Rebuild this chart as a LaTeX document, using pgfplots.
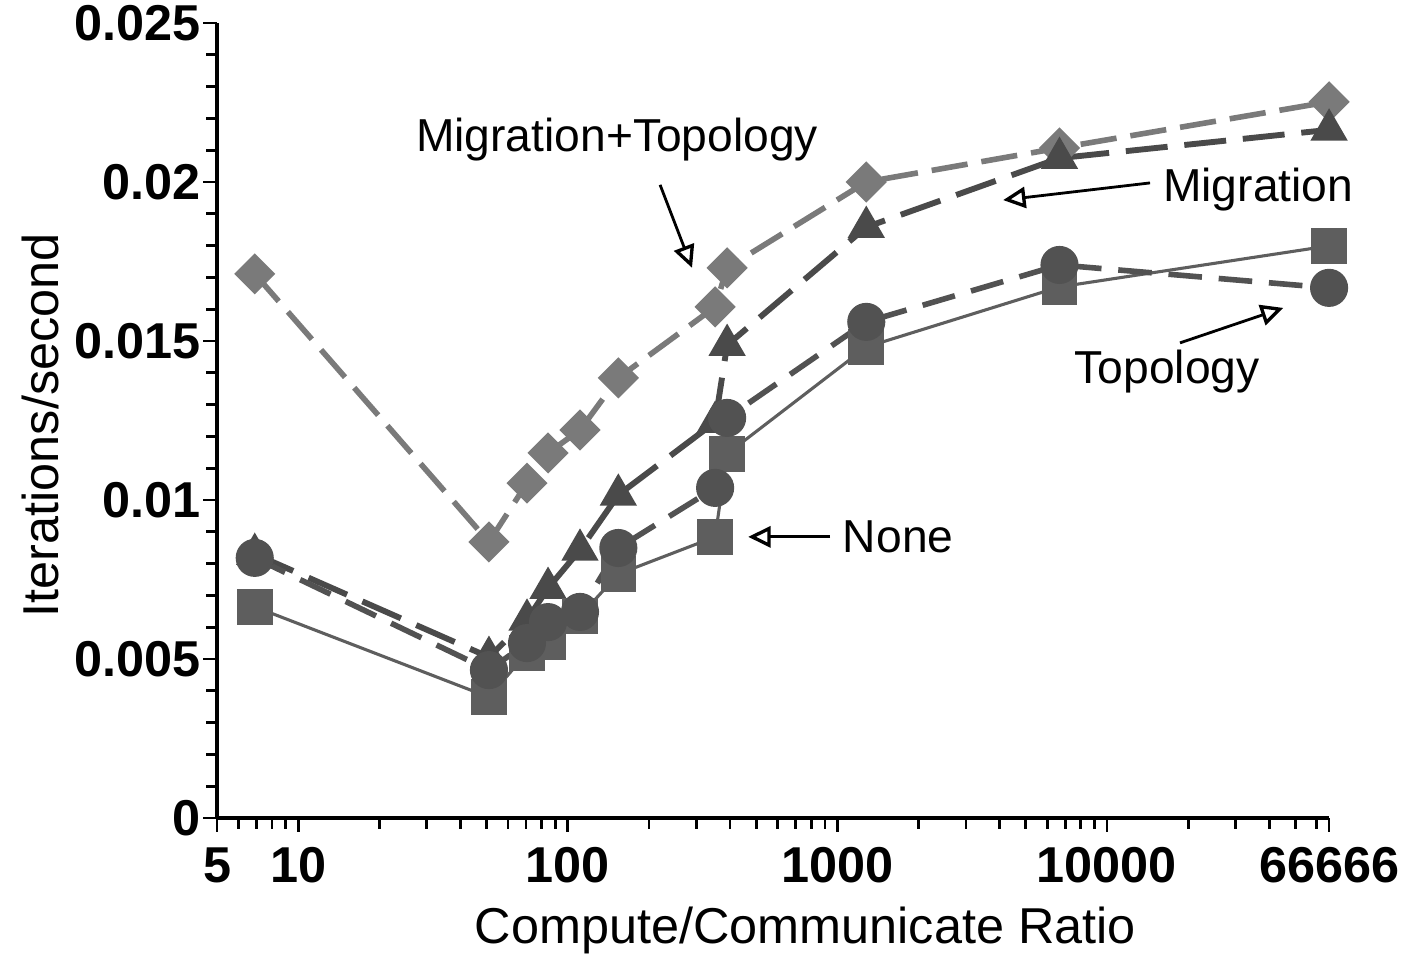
\documentclass[border=0pt]{standalone}
\usepackage{fontspec}
\setmainfont{Liberation Sans}
\usepackage{pgfplots}
\pgfplotsset{compat=1.18}
\usetikzlibrary{arrows.meta}

\definecolor{cNone}{HTML}{5E5E5E}
\definecolor{cTop}{HTML}{525252}
\definecolor{cMig}{HTML}{4A4A4A}
\definecolor{cMT}{HTML}{7A7A7A}

\begin{document}
\begin{tikzpicture}[x=1pt,y=1pt]
\useasboundingbox (-77.5,-52.5) rectangle (423.5,292.1);
\begin{axis}[
  at={(0,0)}, anchor=south west,
  width=397.1pt, height=283.9pt, scale only axis,
  xmode=log, log basis x=10,
  xmin=5, xmax=66666, ymin=0, ymax=0.025,
  axis x line*=bottom, axis y line*=left,
  axis line style={line width=1.1pt, -},
  xtick={5,10,100,1000,10000,66666},
  xticklabels={5,10,100,1000,10000,66666},
  minor xtick={6,7,8,9,20,30,40,50,60,70,80,90,200,300,400,500,600,700,800,900,2000,3000,4000,5000,6000,7000,8000,9000,20000,30000,40000,50000,60000},
  ytick={0,0.005,0.01,0.015,0.02,0.025},
  yticklabels={0,0.005,0.01,0.015,0.02,0.025},
  minor ytick={0.001,0.002,0.003,0.004,0.006,0.007,0.008,0.009,0.011,0.012,0.013,0.014,0.016,0.017,0.018,0.019,0.021,0.022,0.023,0.024},
  scaled y ticks=false,
  tick align=outside,
  major tick length=5pt, minor tick length=3.8pt,
  every tick/.style={line width=1pt, black},
  tick label style={font=\bfseries\fontsize{18}{21}\selectfont},
  yticklabel style={xshift=2.5pt},
  xticklabel style={yshift=-2pt},
  xlabel={Compute/Communicate Ratio}, ylabel={Iterations/second},
  label style={font=\fontsize{18}{21}\selectfont},
  xlabel style={at={(axis description cs:0.529,-0.141)}, anchor=center},
  ylabel style={at={(axis description cs:-0.159,0.494)}, anchor=center},
  clip=false,
]
% Migration+Topology
\addplot[color=cMT, line width=2pt, dash pattern=on 13pt off 5pt,
  mark=square*, mark size=4.2pt, mark options={solid, rotate=45, fill=cMT, draw=cMT}]
  coordinates {(6.9,0.01711) (51,0.00868) (70.6,0.01053) (84.5,0.01148) (111,0.0122) (154,0.01384) (352,0.01607) (390,0.0173) (1280,0.0200) (6667,0.02107) (66666,0.02252)};
% Migration
\addplot[color=cMig, line width=2.1pt, dash pattern=on 15pt off 6pt,
  mark=triangle*, mark size=5.6pt, mark options={solid, fill=cMig, draw=cMig}]
  coordinates {(6.9,0.0083) (51,0.00506) (70.6,0.00623) (84.5,0.00723) (111,0.00843) (154,0.01016) (352,0.01245) (390,0.01487) (1280,0.01858) (6667,0.02075) (66666,0.02164)};
% None
\addplot[color=cNone, line width=1.1pt,
  mark=square*, mark size=5.8pt, mark options={solid, fill=cNone, draw=cNone}]
  coordinates {(6.9,0.00664) (51,0.0038) (70.6,0.00519) (84.5,0.00553) (111,0.00635) (154,0.00767) (352,0.00884) (390,0.01145) (1280,0.01481) (6667,0.0167) (66666,0.01799)};
% Topology
\addplot[color=cTop, line width=2pt, dash pattern=on 12pt off 6pt,
  mark=*, mark size=5.8pt, mark options={solid, fill=cTop, draw=cTop}]
  coordinates {(6.9,0.00818) (51,0.00465) (70.6,0.0055) (84.5,0.00616) (111,0.00648) (154,0.00849) (352,0.01038) (390,0.01258) (1280,0.0156) (6667,0.01739) (66666,0.01667)};

% annotations
\begin{scope}[every node/.style={font=\fontsize{16.5}{19}\selectfont, text=black}]
\node at (axis cs:152.4,0.02132) {Migration+Topology};
\node at (axis cs:36400,0.01975) {Migration};
\node at (axis cs:16700,0.01403) {Topology};
\node at (axis cs:1681,0.00884) {None};
\end{scope}
\begin{scope}[line width=1pt, black, -{Triangle[fill=white, length=8pt, width=7.5pt, line width=1.2pt]}]
\draw (axis cs:220,0.01991) -- (axis cs:289,0.0173);
\draw (axis cs:14450,0.01997) -- (axis cs:4120,0.01943);
\draw (axis cs:18660,0.01494) -- (axis cs:45070,0.01604);
\draw (axis cs:940,0.00884) -- (axis cs:467,0.00884);
\end{scope}
\end{axis}
\end{tikzpicture}
\end{document}
